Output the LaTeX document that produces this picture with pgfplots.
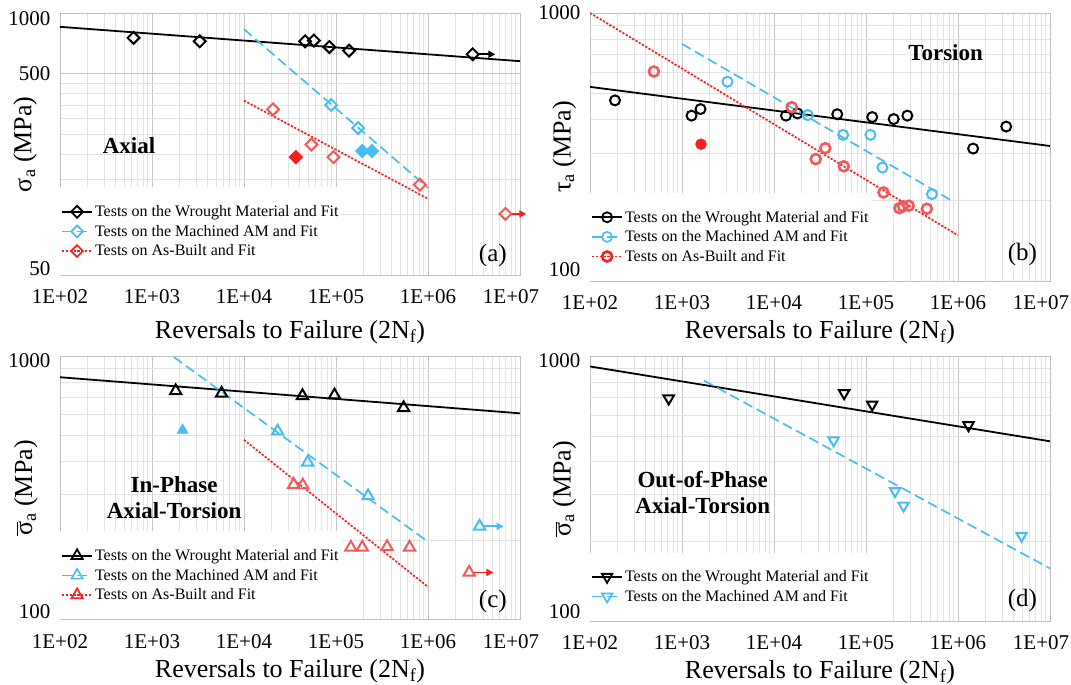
\documentclass[border=0pt]{standalone}
\usepackage{fontspec}
\setmainfont{Liberation Serif}
\usepackage{pgfplots}
\pgfplotsset{compat=1.18}
\usetikzlibrary{arrows.meta}

\definecolor{cyanC}{RGB}{72,190,240}
\definecolor{redL}{RGB}{250,30,30}
\definecolor{redM}{RGB}{240,90,90}

\newcommand{\up}[2]{\raisebox{#1}[\height][\depth]{#2}}

\pgfplotsset{
  every axis/.append style={
    scale only axis, width=460pt,
    xmin=1e2, xmax=1e7,
    xtick={1e2,1e3,1e4,1e5,1e6,1e7},
    xticklabels={1E+02,1E+03,1E+04,1E+05,1E+06,\hspace*{-18pt}1E+07},
    minor xtick={2e2,3e2,4e2,5e2,6e2,7e2,8e2,9e2,2e3,3e3,4e3,5e3,6e3,7e3,8e3,9e3,
      2e4,3e4,4e4,5e4,6e4,7e4,8e4,9e4,2e5,3e5,4e5,5e5,6e5,7e5,8e5,9e5,
      2e6,3e6,4e6,5e6,6e6,7e6,8e6,9e6},
    grid=both,
    major grid style={gray!45, line width=0.8pt},
    minor grid style={gray!22, line width=0.7pt},
    axis line style={gray!50, line width=0.9pt},
    tick style={draw=none},
    ticklabel style={font=\fontsize{21}{24}\selectfont},
    xticklabel style={yshift=-11pt},
    yticklabel style={xshift=-6pt},
    label style={font=\fontsize{26}{30}\selectfont},
    xlabel={Reversals to Failure (2N\textsubscript{f})},
    legend style={at={(0,0)}, anchor=south west, draw=none, fill=white,
      font=\fontsize{16}{18}\selectfont, inner xsep=1pt, inner ysep=16pt,
      row sep=3pt},
    legend cell align=left,
  },
  legend image code/.code={\draw[mark repeat=2, mark phase=2, #1]
    plot coordinates {(0pt,0pt) (15pt,0pt) (30pt,0pt)};},
}
\tikzset{
  blk/.style={black, line width=1.8pt},
  cyl/.style={cyanC, line width=1.7pt, dash pattern=on 10pt off 5pt},
  rdl/.style={redL, line width=1.7pt, dash pattern=on 2.2pt off 1.6pt},
  arr/.style={line width=1.8pt, -{Triangle[length=7pt,width=7pt]}},
}

\begin{document}
\begin{tikzpicture}
\useasboundingbox (0,0) rectangle (1071pt,-685pt);

% (a) Axial
\begin{loglogaxis}[at={(60pt,-13pt)}, anchor=north west, height=262.5pt,
  ymin=50, ymax=1000, ytick={50,500,1000},
  yticklabels={\up{7pt}{50},500,\up{-6pt}{1000}},
  minor ytick={100,150,200,250,300,350,400,450},
  ylabel={σ\textsubscript{a} (MPa)},
  ylabel style={at={(axis description cs:-0.076,0.5)}, anchor=center},
  xlabel style={at={(axis description cs:0.5,0)}, anchor=base, yshift=-63pt},
  clip=false]
\addlegendimage{blk, mark=square, mark size=4.2pt, mark options={solid, rotate=45, fill=white}}
\addlegendentry{Tests on the Wrought Material and Fit}
\addlegendimage{cyl, mark=square, mark size=4.2pt, mark options={solid, rotate=45, fill=white}}
\addlegendentry{Tests on the Machined AM and Fit}
\addlegendimage{rdl, mark=square, mark size=4.2pt, mark options={solid, rotate=45, fill=white}}
\addlegendentry{Tests on As-Built and Fit}
\addplot[blk, forget plot] coordinates {(1e2,854) (1e7,577)};
\addplot[cyl, forget plot] coordinates {(1e4,831) (1e6,136)};
\addplot[rdl, forget plot] coordinates {(1e4,368) (1e6,120)};
\addplot[black, only marks, line width=2pt, mark=square, mark size=4.2pt,
  mark options={solid, rotate=45, fill=white}, forget plot] coordinates {
 (630,753) (3300,724) (46200,724) (57400,730) (84700,678) (138700,651) (3060000,624)};
\addplot[black, arr, forget plot] coordinates {(3450000,624) (5400000,624)};
\addplot[cyanC, only marks, line width=2pt, mark=square, mark size=4.2pt,
  mark options={solid, rotate=45, fill=white}, forget plot] coordinates {(88500,350) (174000,269)};
\addplot[cyanC, only marks, line width=2pt, mark=square*, mark size=4.2pt,
  mark options={solid, rotate=45, fill=cyanC}, forget plot] coordinates {(192800,207) (245500,207)};
\addplot[redM, only marks, line width=2pt, mark=square, mark size=4.2pt,
  mark options={solid, rotate=45, fill=white}, forget plot] coordinates {
 (20700,333) (54100,223) (94000,193) (815000,141) (6950000,101)};
\addplot[redL, only marks, line width=2pt, mark=square*, mark size=4.2pt,
  mark options={solid, rotate=45, fill=redL}, forget plot] coordinates {(36600,193)};
\addplot[redL, arr, forget plot] coordinates {(7700000,101) (11700000,101)};
\node[font=\bfseries\fontsize{23}{26}\selectfont] at (rel axis cs:0.150,0.493) {Axial};
\node[font=\fontsize{25}{28}\selectfont] at (rel axis cs:0.941,0.078) {(a)};
\end{loglogaxis}

% (b) Torsion
\begin{loglogaxis}[at={(590pt,-13pt)}, anchor=north west, height=268pt,
  ymin=100, ymax=1000, ytick={100,1000}, yticklabels={\up{11pt}{100},1000},
  minor ytick={200,300,400,500,600,700,800,900},
  ylabel={τ\textsubscript{a} (MPa)},
  ylabel style={at={(axis description cs:-0.056,0.5)}, anchor=center},
  xlabel style={at={(axis description cs:0.5,0)}, anchor=base, yshift=-57.5pt}]
\addlegendimage{blk, mark=o, mark size=5pt, mark options={solid, fill=white}}
\addlegendentry{Tests on the Wrought Material and Fit}
\addlegendimage{cyl, mark=o, mark size=5pt, mark options={solid, fill=white}}
\addlegendentry{Tests on the Machined AM and Fit}
\addlegendimage{rdl, mark=o, mark size=5pt, mark options={solid, fill=white, line width=2.6pt}}
\addlegendentry{Tests on As-Built and Fit}
\addplot[blk, forget plot] coordinates {(1e2,530) (1e7,319)};
\addplot[cyl, forget plot] coordinates {(1e3,767) (910000,197)};
\addplot[rdl, forget plot] coordinates {(1e2,1000) (1e6,148)};
\addplot[black, only marks, line width=2pt, mark=o, mark size=5pt, forget plot] coordinates {
 (187,472) (1270,414) (1590,438) (13500,414) (18000,422) (48700,419)
 (116800,409) (200000,402) (281600,414) (1460000,312) (3340000,377)};
\addplot[cyanC, only marks, line width=2pt, mark=o, mark size=5pt, forget plot] coordinates {
 (3120,554) (23300,416) (56400,351) (111700,351) (150800,265) (521000,211)};
\addplot[redM, only marks, line width=2.6pt, mark=o, mark size=5pt, forget plot] coordinates {
 (495,605) (15600,445) (28400,285) (36100,313) (57300,268) (155000,214)
 (231000,187) (252000,190) (291000,191) (459000,186)};
\addplot[redL, only marks, mark=*, mark size=5.5pt, forget plot] coordinates {(1610,324)};
\node[font=\bfseries\fontsize{23}{26}\selectfont] at (rel axis cs:0.773,0.851) {Torsion};
\node[font=\fontsize{25}{28}\selectfont] at (rel axis cs:0.94,0.10) {(b)};
\end{loglogaxis}

% (c) In-phase
\begin{loglogaxis}[at={(60pt,-356.5pt)}, anchor=north west, height=263pt,
  ymin=100, ymax=1000, ytick={100,1000}, yticklabels={\up{8pt}{100},\up{-4pt}{1000}},
  minor ytick={200,300,400,500,600,700,800,900},
  ylabel={$\overline{\mbox{σ}}$\textsubscript{a} (MPa)},
  ylabel style={at={(axis description cs:-0.074,0.5)}, anchor=center},
  xlabel style={at={(axis description cs:0.5,0)}, anchor=base, yshift=-58pt}]
\addlegendimage{blk, mark=triangle, mark size=6.5pt, mark options={solid, fill=white}}
\addlegendentry{Tests on the Wrought Material and Fit}
\addlegendimage{cyl, mark=triangle, mark size=6.5pt, mark options={solid, fill=white}}
\addlegendentry{Tests on the Machined AM and Fit}
\addlegendimage{rdl, mark=triangle, mark size=6.5pt, mark options={solid, fill=white}}
\addlegendentry{Tests on As-Built and Fit}
\addplot[blk, forget plot] coordinates {(1e2,834) (1e7,608)};
\addplot[cyl, forget plot] coordinates {(1730,995) (953000,200)};
\addplot[rdl, forget plot] coordinates {(1e4,482) (1e6,133)};
\addplot[black, only marks, line width=2pt, mark=triangle, mark size=6.5pt, forget plot] coordinates {
 (1810,740) (5710,724) (43200,709) (96300,713) (543000,638)};
\addplot[cyanC, only marks, line width=2pt, mark=triangle, mark size=6.5pt, forget plot] coordinates {
 (23200,520) (49200,396) (223000,295) (3640000,226)};
\addplot[cyanC, only marks, mark=triangle*, mark size=6.5pt, forget plot] coordinates {(2150,525)};
\addplot[cyanC, arr, forget plot] coordinates {(4000000,226) (6650000,226)};
\addplot[redM, only marks, line width=2pt, mark=triangle, mark size=6.5pt, forget plot] coordinates {
 (34700,326) (43500,324) (145000,188) (193000,188) (359000,189) (630000,188) (2800000,151)};
\addplot[redL, arr, forget plot] coordinates {(3100000,151) (5140000,151)};
\node[font=\bfseries\fontsize{23}{26}\selectfont, align=center] at (rel axis cs:0.248,0.462) {In-Phase\\Axial-Torsion};
\node[font=\fontsize{25}{28}\selectfont] at (rel axis cs:0.941,0.07) {(c)};
\end{loglogaxis}

% (d) Out-of-phase
\begin{loglogaxis}[at={(590pt,-356.5pt)}, anchor=north west, height=264.5pt,
  ymin=100, ymax=1000, ytick={100,1000}, yticklabels={\up{9pt}{100},\up{-4pt}{1000}},
  minor ytick={200,300,400,500,600,700,800,900},
  ylabel={$\overline{\mbox{σ}}$\textsubscript{a} (MPa)},
  ylabel style={at={(axis description cs:-0.056,0.5)}, anchor=center},
  xlabel style={at={(axis description cs:0.5,0)}, anchor=base, yshift=-57pt}]
\addlegendimage{blk, mark=triangle, mark size=6pt, mark options={solid, fill=white, rotate=180}}
\addlegendentry{Tests on the Wrought Material and Fit}
\addlegendimage{cyl, mark=triangle, mark size=6pt, mark options={solid, fill=white, rotate=180}}
\addlegendentry{Tests on the Machined AM and Fit}
\addplot[blk, forget plot] coordinates {(1e2,917) (1e7,478)};
\addplot[cyl, forget plot] coordinates {(1730,811) (1e7,158)};
\addplot[black, only marks, line width=2pt, mark=triangle, mark size=6pt,
  mark options={rotate=180}, forget plot] coordinates {
 (717,694) (57800,727) (116700,658) (1300000,550)};
\addplot[cyanC, only marks, line width=2pt, mark=triangle, mark size=6pt,
  mark options={rotate=180}, forget plot] coordinates {
 (44400,482) (207000,310) (256000,273) (4910000,210)};
\node[font=\bfseries\fontsize{23}{26}\selectfont, align=center] at (rel axis cs:0.245,0.485) {Out-of-Phase\\Axial-Torsion};
\node[font=\fontsize{25}{28}\selectfont] at (rel axis cs:0.94,0.077) {(d)};
\end{loglogaxis}
\end{tikzpicture}
\end{document}
